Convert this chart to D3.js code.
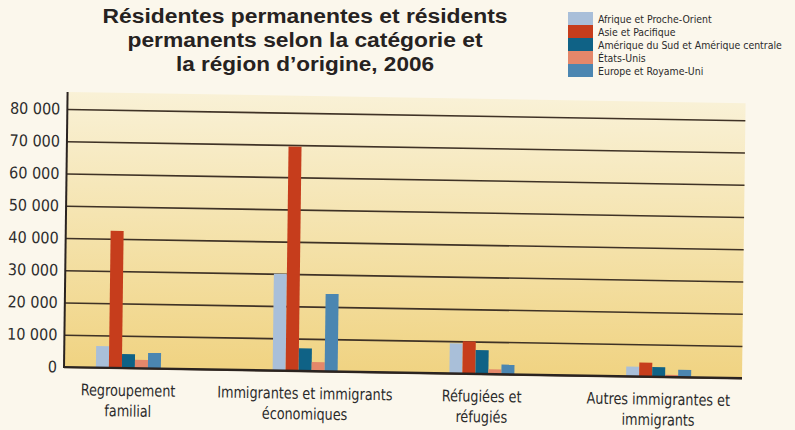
<!DOCTYPE html>
<html>
<head>
<meta charset="utf-8">
<script src="https://cdn.jsdelivr.net/npm/d3@7"></script>
<style>
  html, body { margin: 0; padding: 0; background: #fbf7ec; }
  svg { display: block; }
</style>
</head>
<body>
<svg id="chart" width="795" height="430"></svg>
<script>
// ---- DATA ----
const categories = ["Regroupement familial", "Immigrantes et immigrants économiques", "Réfugiées et réfugiés", "Autres immigrantes et immigrants"];
const categoryLines = [["Regroupement", "familial"], ["Immigrantes et immigrants", "économiques"], ["Réfugiées et", "réfugiés"], ["Autres immigrantes et", "immigrants"]];
const seriesNames = ["Afrique et Proche-Orient", "Asie et Pacifique", "Amérique du Sud et Amérique centrale", "États-Unis", "Europe et Royame-Uni"];
const afriqueProcheOrient = [6700, 30000, 9300, 3000];
const asiePacifique = [42500, 69500, 10000, 4300];
const ameriqueSudCentrale = [4300, 7000, 7400, 3000];
const etatsUnis = [2600, 2800, 1500, 700];
const europeRoyaumeUni = [4800, 24000, 3000, 2300];
const yTickValues = [0, 10000, 20000, 30000, 40000, 50000, 60000, 70000, 80000];
const yTickLabels = ["0", "10 000", "20 000", "30 000", "40 000", "50 000", "60 000", "70 000", "80 000"];
const titleLines = ["Résidentes permanentes et résidents", "permanents selon la catégorie et", "la région d’origine, 2006"];

const seriesValues = [afriqueProcheOrient, asiePacifique, ameriqueSudCentrale, etatsUnis, europeRoyaumeUni];
const colors = ["#a9bfd9", "#c63d1c", "#0f6286", "#e4876a", "#4b86b1"];
const narrowFont = "'Liberation Sans Narrow', 'DejaVu Sans Condensed', 'Arial Narrow', sans-serif";

// ---- LAYOUT ----
const svg = d3.select("#chart");
const plotLeft = 64, plotRight = 742, plotTop = 92, plotBottom = 367;

const defs = svg.append("defs");
const grad = defs.append("linearGradient").attr("id", "bg").attr("x1", 0).attr("y1", 0).attr("x2", 0).attr("y2", 1);
grad.append("stop").attr("offset", "0%").attr("stop-color", "#f9f1d6");
grad.append("stop").attr("offset", "55%").attr("stop-color", "#f4e1a8");
grad.append("stop").attr("offset", "100%").attr("stop-color", "#f0d382");

// Title
const title = svg.append("g").attr("font-family", "'Liberation Sans', Arial, sans-serif")
  .attr("font-weight", "bold").attr("font-size", 20).attr("fill", "#262221");
const titleWidths = [405, 355, 258];
titleLines.forEach((t, i) => {
  title.append("text").attr("x", 305).attr("y", 23 + i * 24).attr("text-anchor", "middle")
    .attr("textLength", titleWidths[i]).attr("lengthAdjust", "spacingAndGlyphs").text(t);
});

// Legend
const legend = svg.append("g").attr("font-family", narrowFont)
  .attr("font-size", 11).attr("fill", "#2b2b2b");
seriesNames.forEach((name, i) => {
  legend.append("rect").attr("x", 568).attr("y", 12 + i * 13).attr("width", 25).attr("height", 13).attr("fill", colors[i]);
  legend.append("text").attr("transform", `translate(598,${23 + i * 13}) scale(0.95,1)`).text(name);
});

// Plot group with slight skew (as in the photographed reference)
const plot = svg.append("g")
  .attr("transform", `translate(${plotLeft},${plotBottom}) matrix(1,0.0165,-0.013,1,0,0) translate(${-plotLeft},${-plotBottom})`);

plot.append("rect").attr("x", plotLeft).attr("y", plotTop).attr("width", plotRight - plotLeft)
  .attr("height", plotBottom - plotTop).attr("fill", "url(#bg)");

const y = d3.scaleLinear().domain([0, 80000]).range([plotBottom, 109]);
const x0 = d3.scaleBand().domain(categories).range([40, 747]).padding(0);
const x1 = d3.scaleBand().domain(d3.range(seriesNames.length)).range([0, 65]).padding(0);

// Y axis with gridlines
const yAxis = d3.axisLeft(y).tickValues(yTickValues)
  .tickFormat((d, i) => yTickLabels[i]).tickSize(-(plotRight - plotLeft)).tickPadding(7);
const yg = plot.append("g").attr("transform", `translate(${plotLeft},0)`).call(yAxis);
yg.select(".domain").remove();
yg.selectAll(".tick line").attr("stroke", "#3f3226").attr("stroke-width", 1.6);
yg.selectAll(".tick text").attr("font-family", narrowFont)
  .attr("font-size", 16).attr("fill", "#2e2e2e");

// Bars
const groups = plot.append("g").selectAll("g").data(categories).join("g")
  .attr("transform", d => `translate(${x0(d) + x0.bandwidth() / 2 - 32.5},0)`);
groups.selectAll("rect")
  .data((d, ci) => seriesValues.map((vals, si) => ({ si, v: vals[ci] })))
  .join("rect")
  .attr("x", d => x1(d.si))
  .attr("width", x1.bandwidth())
  .attr("y", d => y(d.v))
  .attr("height", d => y(0) - y(d.v))
  .attr("fill", d => colors[d.si]);

// Axis lines
plot.append("line").attr("x1", plotLeft).attr("x2", plotLeft).attr("y1", plotTop).attr("y2", plotBottom + 1)
  .attr("stroke", "#2a2320").attr("stroke-width", 2);
plot.append("line").attr("x1", plotLeft - 1).attr("x2", plotRight).attr("y1", plotBottom).attr("y2", plotBottom)
  .attr("stroke", "#2a2320").attr("stroke-width", 2.2);

// X axis labels
const xAxis = d3.axisBottom(x0).tickSize(0).tickPadding(0).tickFormat(() => "");
const xg = plot.append("g").attr("transform", `translate(0,${plotBottom})`).call(xAxis);
xg.select(".domain").remove();
xg.selectAll(".tick text").remove();
xg.selectAll(".tick").each(function (d, i) {
  const t = d3.select(this).append("text")
    .attr("text-anchor", "middle")
    .attr("transform", "scale(0.89,1)")
    .attr("font-family", narrowFont)
    .attr("font-size", 16).attr("fill", "#2b2b2b");
  categoryLines[i].forEach((line, k) => {
    t.append("tspan").attr("x", 0).attr("y", 28 + k * 20.5).text(line);
  });
});
</script>
</body>
</html>
